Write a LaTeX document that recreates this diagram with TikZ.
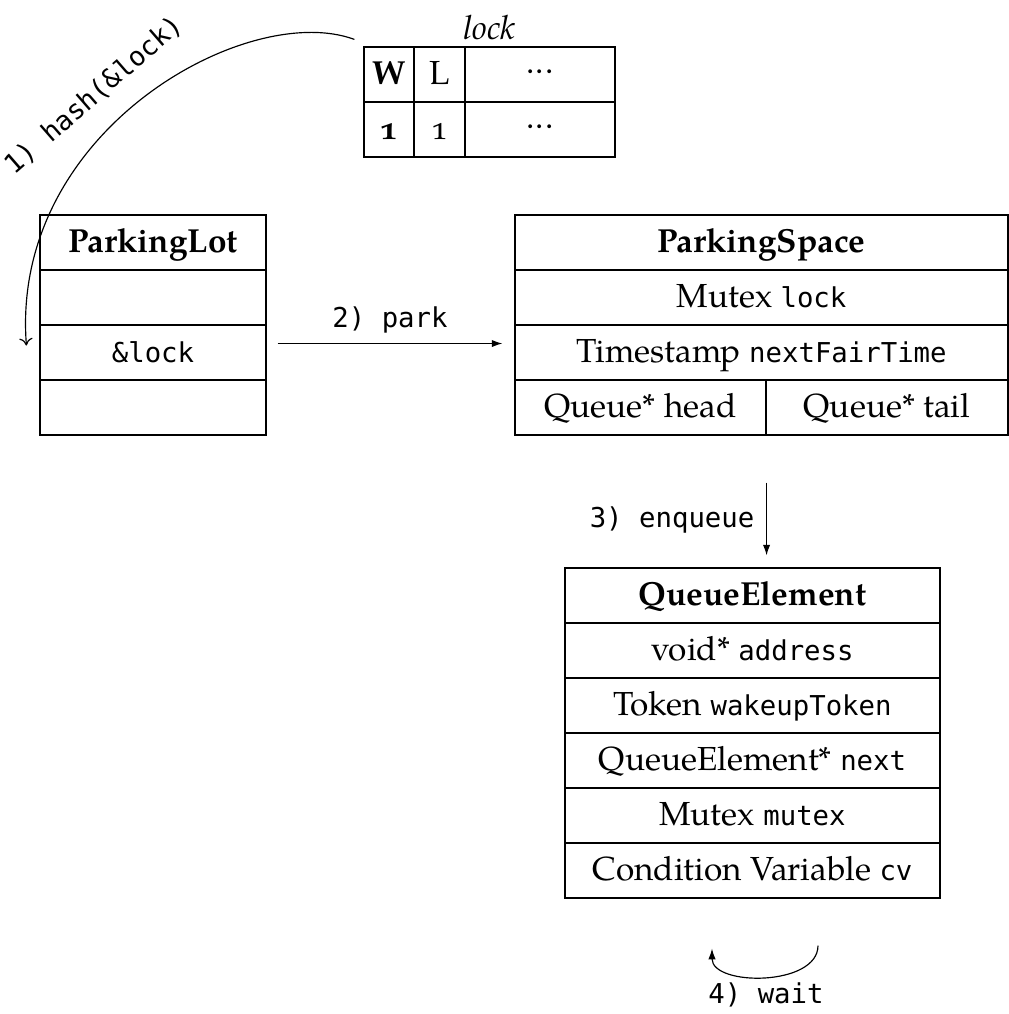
\documentclass[tikz,border=0pt]{standalone}
\usepackage{fontspec}
\setmainfont{TeX Gyre Pagella}[Numbers=OldStyle]
\setmonofont{DejaVu Sans Mono}[Scale=0.82]
\usetikzlibrary{calc,arrows.meta}
\newcommand{\mydots}{\raisebox{3.3pt}{.\kern0.4pt.\kern0.4pt.}}
\begin{document}
\begin{tikzpicture}[x=0.3pt,y=-0.3pt,
  cell/.style={draw, line width=0.35pt, minimum height=16.5pt, inner sep=0pt, text height=7.5pt, text depth=1.5pt},
  plcell/.style={cell, minimum width=67.8pt},
  pscell/.style={cell, minimum width=147.9pt},
  qecell/.style={cell, minimum width=112.5pt},
  conn/.style={line width=0.35pt, -{Latex[length=3.2pt,width=2.2pt]}},
  lbl/.style={inner sep=0pt, font=\ttfamily}
]
\useasboundingbox (0,0) rectangle (1009,1014);

% lock table
\node[cell, minimum width=15pt]   (lkW)  at (389,74.5)  {\textbf{W}};
\node[cell, minimum width=15.3pt] (lkL)  at (439.5,74.5) {L};
\node[cell, minimum width=45pt]   (lkD)  at (540,74.5)  {\mydots};
\node[cell, minimum width=15pt]   (lkW1) at (389,129.5) {\textbf{1}};
\node[cell, minimum width=15.3pt] (lkL1) at (439.5,129.5) {1};
\node[cell, minimum width=45pt]   (lkD1) at (540,129.5) {\mydots};
\node[inner sep=0pt, anchor=base] (lockname) at (489.5,39) {\textit{lock}};

% ParkingLot
\node[plcell] (pl1) at (153,242.5) {\textbf{ParkingLot}};
\node[plcell] (pl2) at (153,297.5) {};
\node[plcell] (pl3) at (153,352.5) {\texttt{\&lock}};
\node[plcell] (pl4) at (153,407.5) {};

% ParkingSpace
\node[pscell] (ps1) at (761.5,242.5) {\textbf{ParkingSpace}};
\node[pscell] (ps2) at (761.5,297.5) {Mutex \texttt{lock}};
\node[pscell] (ps3) at (761.5,352.5) {Timestamp \texttt{nextFairTime}};
\node[cell, minimum width=75.3pt] (ps4a) at (640.5,407.5) {Queue* head};
\node[cell, minimum width=72.6pt] (ps4b) at (887,407.5) {Queue* tail};

% QueueElement
\node[qecell] (qe1) at (752.5,595.5) {\textbf{QueueElement}};
\node[qecell] (qe2) at (752.5,650.5) {void* \texttt{address}};
\node[qecell] (qe3) at (752.5,705.5) {Token \texttt{wakeupToken}};
\node[qecell] (qe4) at (752.5,760.5) {QueueElement* \texttt{next}};
\node[qecell] (qe5) at (752.5,815.5) {Mutex \texttt{mutex}};
\node[qecell] (qe6) at (752.5,870.5) {Condition Variable \texttt{cv}};

% 1) hash
\draw[line width=0.35pt, -{To[length=2.2pt,width=4pt]}]
  ($(lkW.north west)+(-9,-7)$) .. controls (248,0) and (10,130) .. ($(pl3.west)+(-13,-7)$);
\node[lbl, font=\ttfamily\fontsize{9.8pt}{12pt}\selectfont, rotate=41, anchor=base west] (hashlbl) at (14,176) {1) hash(\&lock)};

% 2) park
\draw[conn] ($(pl3.east)+(11,-9)$) -- ($(ps3.west)+(-12,-9)$);
\node[lbl] (parklbl) at (390,320) {2) park};

% 3) enqueue
\draw[conn] ($(ps4a.south east)+(0,47)$) -- ($(ps4a.south east |- qe1.north)+(0,-12)$);
\node[lbl, anchor=east] (enqlbl) at (755,520) {3) enqueue};

% 4) wait
\coordinate (w1) at ($(qe6.south)+(65.5,47)$);
\coordinate (w2) at ($(qe6.south)+(-40.5,50)$);
\draw[conn] (w1) .. controls ($(w1)+(0,41)$) and ($(w2)+(0,38)$) .. (w2);
\node[lbl] (waitlbl) at (766,995) {4) wait};
\end{tikzpicture}
\end{document}
